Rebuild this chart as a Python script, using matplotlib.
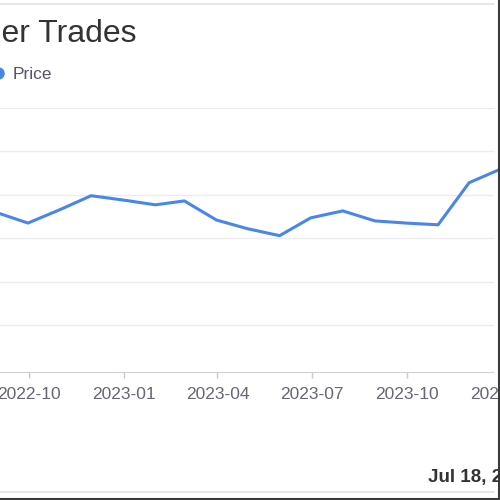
import matplotlib
matplotlib.use("Agg")
import matplotlib.pyplot as plt
import matplotlib.dates as mdates
from matplotlib.lines import Line2D
import pandas as pd

plt.rcParams['font.family'] = ['Liberation Sans', 'DejaVu Sans']

# data (month-end prices)
dates = pd.to_datetime([
    "2022-08-31", "2022-09-30", "2022-10-31", "2022-11-30", "2022-12-31",
    "2023-01-31", "2023-02-28", "2023-03-31", "2023-04-30", "2023-05-31",
    "2023-06-30", "2023-07-31", "2023-08-31", "2023-09-30", "2023-10-31",
    "2023-11-30", "2023-12-31",
])
price = [35.9, 33.5, 36.6, 39.8, 38.8,
         37.7, 38.6, 34.2, 32.2, 30.6,
         34.7, 36.3, 34.0, 33.5, 33.1,
         42.8, 46.0]

tick_dates = pd.to_datetime(["2022-10-01", "2023-01-01", "2023-04-01",
                             "2023-07-01", "2023-10-01", "2024-01-01"])
grid_values = [10, 20, 30, 40, 50, 60]

title = "Insider Trades"
legend_label = "Price"
date_note = "Jul 18, 2024"

line_color = "#4a86e8"
grid_color = "#ececf0"
tick_color = "#666675"

W = 500.0
fig = plt.figure(figsize=(5, 5), dpi=100)

# axes runs past the right edge of the canvas (the picture is a crop)
ax_left, ax_right, ax_top, ax_bottom = 0, 540, 108, 372
ax = fig.add_axes([ax_left / W, 1 - ax_bottom / W,
                   (ax_right - ax_left) / W, (ax_bottom - ax_top) / W])

px_per_day = 378 / 365.0
x0 = pd.Timestamp("2022-10-01") - pd.Timedelta(days=29 / px_per_day)
x1 = pd.Timestamp("2022-10-01") + pd.Timedelta(days=(ax_right - 29) / px_per_day)
ax.set_xlim(x0, x1)
ax.set_ylim(-0.8, 60)

ax.plot(dates, price, color=line_color, lw=2.2, solid_joinstyle='round', zorder=3)

gmax = (493 - ax_left) / (ax_right - ax_left)
for v in grid_values:
    ax.axhline(v, xmin=0, xmax=gmax, color=grid_color, lw=1, zorder=1)

ax.set_yticks([])
ax.set_xticks(tick_dates)
ax.xaxis.set_major_formatter(mdates.DateFormatter('%Y-%m'))
ax.tick_params(axis='x', colors='#c8c8d0', length=4, width=1, pad=7,
               labelsize=12.5, labelcolor=tick_color)

for s in ['top', 'right', 'left']:
    ax.spines[s].set_visible(False)
ax.spines['bottom'].set_color('#d0d0da')
ax.spines['bottom'].set_bounds(mdates.date2num(x0),
                               mdates.date2num(x0) + (493 - ax_left) / px_per_day)

# title, partially cut off at the left edge
fig.text(136 / W, 1 - 42 / W, title, ha='right', va='baseline',
         fontsize=23, color='#333333')

# legend, marker cut off at the left edge
fig.add_artist(Line2D([-2 / W], [1 - 73 / W], marker='o', markersize=8,
                      color=line_color, transform=fig.transFigure))
fig.text(13 / W, 1 - 79 / W, legend_label, ha='left', va='baseline',
         fontsize=12.5, color='#555566')

fig.text(428 / W, 1 - 482 / W, date_note, ha='left', va='baseline',
         fontsize=13.5, fontweight='bold', color='#333333')

# frame lines of the crop
fig.add_artist(Line2D([0, 493 / W], [1 - 4 / W, 1 - 4 / W], color='#e6e6ec',
                      lw=1.5, transform=fig.transFigure))
fig.add_artist(Line2D([0, 493 / W], [1 - 492 / W, 1 - 492 / W], color='#e6e6ec',
                      lw=1.5, transform=fig.transFigure))
fig.add_artist(Line2D([498.5 / W, 498.5 / W], [0, 1], color='#3a3a3a',
                      lw=2.2, transform=fig.transFigure))
fig.add_artist(Line2D([0, 1], [1.5 / W, 1.5 / W], color='#3a3a3a',
                      lw=2.2, transform=fig.transFigure))

fig.savefig("out.png", dpi=100)
